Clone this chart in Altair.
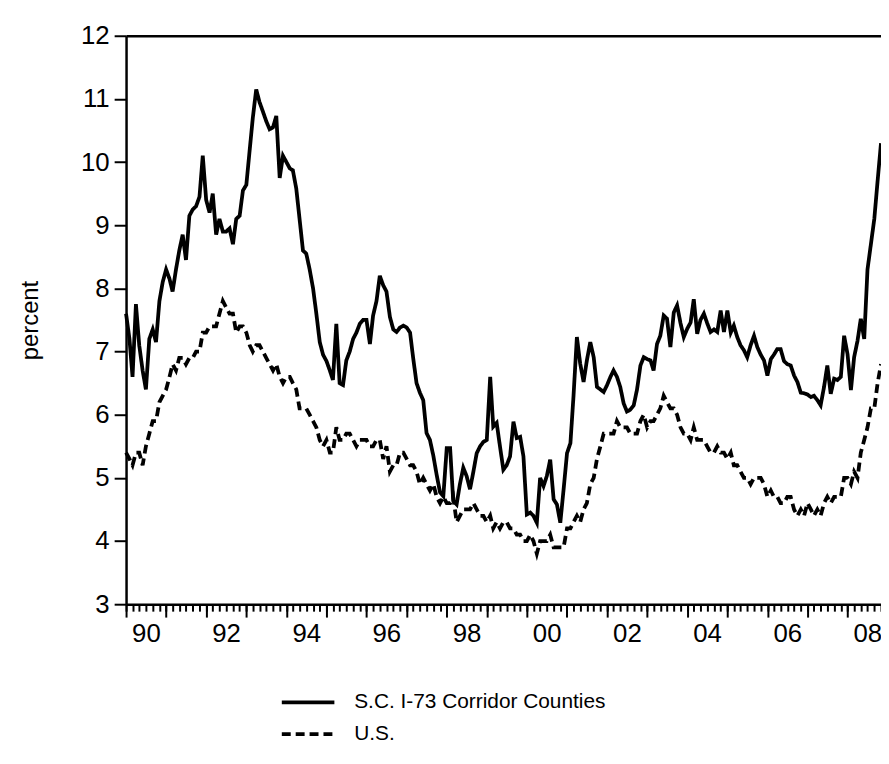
import altair as alt
import pandas as pd

# Monthly unemployment rate, Jan 1990 - Nov 2008 (percent)
sc_i73 = (
    [7.6, 7.2, 6.6, 7.75, 7.1, 6.7, 6.4, 7.2, 7.35, 7.15, 7.8, 8.1]          # 1990
    + [8.3, 8.15, 7.95, 8.3, 8.6, 8.85, 8.45, 9.15, 9.25, 9.3, 9.45, 10.1]  # 1991
    + [9.4, 9.2, 9.5, 8.85, 9.1, 8.9, 8.9, 8.95, 8.7, 9.1, 9.15, 9.55]      # 1992
    + [9.64, 10.2, 10.7, 11.15, 10.95, 10.8, 10.65, 10.52, 10.55, 10.73, 9.75, 10.1]  # 1993
    + [10.0, 9.9, 9.87, 9.58, 9.1, 8.6, 8.55, 8.3, 8.0, 7.6, 7.15, 6.95]    # 1994
    + [6.85, 6.7, 6.55, 7.44, 6.5, 6.47, 6.86, 7.0, 7.2, 7.3, 7.44, 7.5]    # 1995
    + [7.5, 7.12, 7.57, 7.8, 8.2, 8.05, 7.95, 7.55, 7.35, 7.31, 7.38, 7.41] # 1996
    + [7.38, 7.3, 6.9, 6.5, 6.35, 6.23, 5.71, 5.6, 5.35, 5.05, 4.77, 4.71]  # 1997
    + [5.47, 5.47, 4.64, 4.58, 4.9, 5.16, 5.03, 4.82, 5.1, 5.39, 5.5, 5.57] # 1998
    + [5.6, 6.6, 5.81, 5.87, 5.5, 5.13, 5.2, 5.34, 5.89, 5.63, 5.65, 5.34]  # 1999
    + [4.42, 4.45, 4.4, 4.29, 5.0, 4.87, 5.03, 5.29, 4.66, 4.58, 4.29, 4.82]  # 2000
    + [5.39, 5.55, 6.29, 7.23, 6.81, 6.52, 6.86, 7.15, 6.91, 6.44, 6.4, 6.36] # 2001
    + [6.47, 6.6, 6.7, 6.6, 6.44, 6.18, 6.05, 6.08, 6.15, 6.4, 6.78, 6.91]  # 2002
    + [6.88, 6.86, 6.7, 7.12, 7.25, 7.57, 7.52, 7.07, 7.62, 7.73, 7.45, 7.23]  # 2003
    + [7.36, 7.46, 7.83, 7.28, 7.5, 7.6, 7.45, 7.31, 7.35, 7.31, 7.65, 7.31]   # 2004
    + [7.65, 7.3, 7.41, 7.23, 7.1, 7.02, 6.91, 7.1, 7.25, 7.07, 6.95, 6.86]    # 2005
    + [6.62, 6.88, 6.95, 7.04, 7.04, 6.85, 6.8, 6.78, 6.62, 6.52, 6.35, 6.34]  # 2006
    + [6.32, 6.28, 6.3, 6.23, 6.15, 6.44, 6.78, 6.33, 6.57, 6.55, 6.6, 7.25]   # 2007
    + [6.96, 6.39, 6.91, 7.17, 7.52, 7.2, 8.3, 8.7, 9.1, 9.7, 10.3]            # 2008
)

us = (
    [5.4, 5.3, 5.2, 5.4, 5.4, 5.2, 5.5, 5.7, 5.9, 5.9, 6.2, 6.3]   # 1990
    + [6.4, 6.6, 6.8, 6.7, 6.9, 6.9, 6.8, 6.9, 6.9, 7.0, 7.0, 7.3]  # 1991
    + [7.3, 7.4, 7.4, 7.4, 7.6, 7.8, 7.7, 7.6, 7.6, 7.3, 7.4, 7.4]  # 1992
    + [7.3, 7.1, 7.0, 7.1, 7.1, 7.0, 6.9, 6.8, 6.7, 6.8, 6.6, 6.5]  # 1993
    + [6.6, 6.6, 6.5, 6.4, 6.1, 6.1, 6.1, 6.0, 5.9, 5.8, 5.6, 5.5]  # 1994
    + [5.6, 5.4, 5.4, 5.8, 5.6, 5.6, 5.7, 5.7, 5.6, 5.5, 5.6, 5.6]  # 1995
    + [5.6, 5.5, 5.5, 5.6, 5.6, 5.3, 5.5, 5.1, 5.2, 5.2, 5.4, 5.4]  # 1996
    + [5.3, 5.2, 5.2, 5.1, 4.9, 5.0, 4.9, 4.8, 4.9, 4.7, 4.6, 4.7]  # 1997
    + [4.6, 4.6, 4.7, 4.3, 4.4, 4.5, 4.5, 4.5, 4.6, 4.5, 4.4, 4.4]  # 1998
    + [4.3, 4.4, 4.2, 4.3, 4.2, 4.3, 4.3, 4.2, 4.2, 4.1, 4.1, 4.0]  # 1999
    + [4.0, 4.1, 4.0, 3.8, 4.0, 4.0, 4.0, 4.1, 3.9, 3.9, 3.9, 3.9]  # 2000
    + [4.2, 4.2, 4.3, 4.4, 4.3, 4.5, 4.6, 4.9, 5.0, 5.3, 5.5, 5.7]  # 2001
    + [5.7, 5.7, 5.7, 5.9, 5.8, 5.8, 5.8, 5.7, 5.7, 5.7, 5.9, 6.0]  # 2002
    + [5.8, 5.9, 5.9, 6.0, 6.1, 6.3, 6.2, 6.1, 6.1, 6.0, 5.8, 5.7]  # 2003
    + [5.7, 5.6, 5.8, 5.6, 5.6, 5.6, 5.5, 5.4, 5.4, 5.5, 5.4, 5.4]  # 2004
    + [5.3, 5.4, 5.2, 5.2, 5.1, 5.0, 5.0, 4.9, 5.0, 5.0, 5.0, 4.9]  # 2005
    + [4.7, 4.8, 4.7, 4.7, 4.6, 4.6, 4.7, 4.7, 4.5, 4.4, 4.5, 4.4]  # 2006
    + [4.6, 4.5, 4.4, 4.5, 4.4, 4.6, 4.7, 4.6, 4.7, 4.7, 4.7, 5.0]  # 2007
    + [5.0, 4.9, 5.1, 5.0, 5.4, 5.6, 5.8, 6.1, 6.1, 6.5, 6.8]       # 2008
)

series_names = ["S.C. I-73 Corridor Counties", "U.S."]
y_ticks = [3, 4, 5, 6, 7, 8, 9, 10, 11, 12]
label_years = list(range(1990, 2009))

months = pd.date_range("1990-01-01", periods=len(sc_i73), freq="MS")
df = pd.concat([
    pd.DataFrame({"date": months, "rate": sc_i73, "series": series_names[0]}),
    pd.DataFrame({"date": months, "rate": us, "series": series_names[1]}),
])

FONT = "Liberation Sans"
x_domain = [alt.DateTime(year=1990, month=1, date=1), alt.DateTime(year=2008, month=11, date=1)]
x_scale = alt.Scale(domain=x_domain, nice=False)
y_scale = alt.Scale(domain=[3, 12], nice=False, zero=False)

major_vals = [alt.DateTime(year=y, month=1, date=1) for y in label_years]
minor_vals = [alt.DateTime(year=y, month=m, date=1) for y in label_years for m in range(1, 13, 2)]

lines = alt.Chart(df).mark_line(strokeWidth=3.8, color="black").encode(
    x=alt.X("date:T", scale=x_scale, axis=alt.Axis(
        orient="bottom", values=major_vals, grid=False, tickSize=13, tickWidth=2,
        tickColor="black", domainColor="black", domainWidth=2.5,
        labelExpr="year(datum.value) % 2 == 0 ? timeFormat(datum.value, '%y') : ''",
        labelOffset=20, labelPadding=4, labelFontSize=26, labelFont=FONT,
        labelColor="black", labelFlush=False, labelOverlap=False, title=None)),
    y=alt.Y("rate:Q", scale=y_scale, axis=alt.Axis(
        orient="left", values=y_ticks, grid=False, tickSize=12, tickWidth=2,
        tickColor="black", domainColor="black", domainWidth=2.5,
        labelFontSize=26, labelFont=FONT, labelColor="black", labelPadding=5,
        title="percent", titleFont=FONT, titleFontSize=24,
        titleFontWeight="normal", titleColor="black",
        titleX=-96, titleBaseline="middle")),
    strokeDash=alt.StrokeDash("series:N", scale=alt.Scale(
        domain=series_names, range=[[1, 0], [9, 5]]), legend=alt.Legend(
        title=None, orient="none", legendX=155, legendY=657,
        symbolType="stroke", symbolSize=2809, symbolStrokeWidth=3.8,
        symbolStrokeColor="black", labelFontSize=21, labelFont=FONT,
        labelColor="black", labelOffset=18, labelLimit=500,
        rowPadding=2, clipHeight=30)),
)

minor = alt.Chart(df).mark_line(opacity=0).encode(
    x=alt.X("date:T", scale=x_scale, axis=alt.Axis(
        orient="bottom", values=minor_vals, grid=False, tickSize=7, tickWidth=2,
        tickColor="black", labels=False, domain=False, title=None)),
    y=alt.Y("rate:Q", scale=y_scale, axis=None),
    detail="series:N",
)

frame_top = alt.Chart(df).mark_line(opacity=0).encode(
    x=alt.X("date:T", scale=x_scale, axis=alt.Axis(
        orient="top", ticks=False, labels=False, grid=False, domain=True,
        domainColor="black", domainWidth=2.5, title=None)),
    y=alt.Y("rate:Q", scale=y_scale, axis=None),
    detail="series:N",
)

chart = alt.layer(lines, minor, frame_top).resolve_axis(
    x="independent", y="independent"
).properties(
    width=761, height=573,
    autosize=alt.AutoSizeParams(type="none"),
    padding={"left": 119, "top": 25, "right": 0, "bottom": 145},
).configure_view(stroke=None).configure(background="white")

chart.save("out.html", embed_options={"renderer": "svg", "actions": False})
